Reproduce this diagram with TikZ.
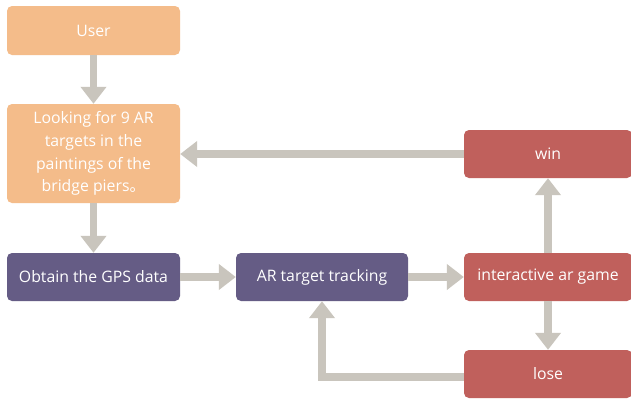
\documentclass[tikz,border=0pt]{standalone}
\usepackage{fontspec}
\setmainfont{Open Sans}
\newfontfamily\cjk{Noto Sans CJK SC}
\usetikzlibrary{arrows.meta}
\definecolor{orangebox}{HTML}{F4BC8A}
\definecolor{purplebox}{HTML}{655C85}
\definecolor{redbox}{HTML}{C0605C}
\definecolor{arrowgray}{HTML}{C9C5BD}
\tikzset{
  box/.style={rounded corners=5pt, text=white, align=center, inner sep=0pt,
    font=\fontsize{15.8}{22.8}\selectfont, minimum height=48pt},
  obox/.style={box, fill=orangebox, minimum width=173pt},
  pbox/.style={box, fill=purplebox, minimum width=172pt},
  rbox/.style={box, fill=redbox, minimum width=168pt},
  conn/.style={draw=arrowgray, line width=7.5pt,
    -{Triangle[width=25pt,length=17pt]}}
}
\begin{document}
\begin{tikzpicture}[x=1pt,y=-1pt]
\useasboundingbox (0,0) rectangle (631,399);
\clip (0,0) rectangle (631,399);
\fill[white] (0,0) rectangle (631,399);
\node[obox, minimum height=49pt] (user) at (93.5,30.5) {User};
\node[obox, minimum height=99pt] (look) at (93.5,153.5) {Looking for 9 AR\\targets in the\\paintings of the\\bridge piers{\cjk 。}};
\node[pbox, minimum width=173pt] (gps) at (93.5,277) {Obtain the GPS data};
\node[pbox] (ar) at (322,277) {AR target tracking};
\node[rbox] (game) at (548,277) {interactive ar game};
\node[rbox] (win) at (548,154) {win};
\node[rbox] (lose) at (548,374) {lose};
\draw[conn] (user) -- (look);
\draw[conn] (look) -- (gps);
\draw[conn] (gps) -- (ar);
\draw[conn] (ar) -- (game);
\draw[conn] (game) -- (win);
\draw[conn] (game) -- (lose);
\draw[conn] (win.west) -- (win.west -| look.east);
\draw[conn] ([yshift=-3pt]lose.west) -| (ar.south);
\end{tikzpicture}
\end{document}
